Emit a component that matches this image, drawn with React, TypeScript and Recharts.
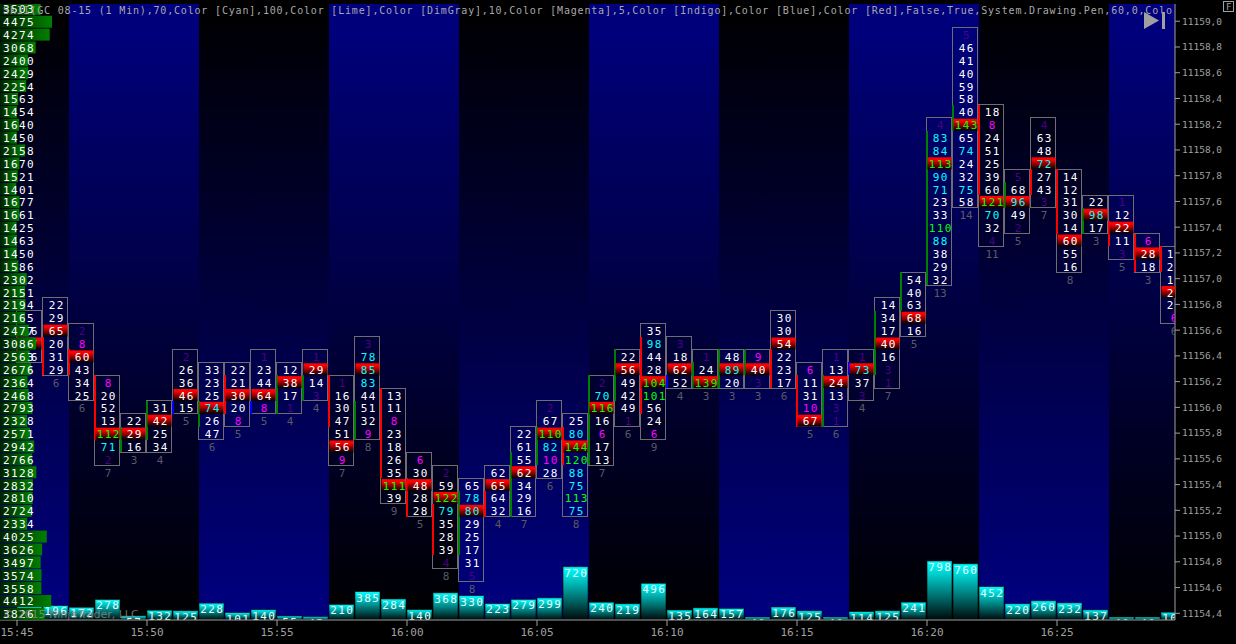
import { ComposedChart, Bar, Scatter, XAxis, YAxis, ReferenceArea } from 'recharts';

const WIDTH = 1236;
const HEIGHT = 644;
const MONO = '"DejaVu Sans Mono", monospace';
const ROW = 0.1;
const X_MIN = -17 / 26;
const X_MAX = 1158 / 26;

// minutes after 15:45
const minuteTicks = [0, 5, 10, 15, 20, 25, 30, 35, 40];
const timeLabels = ['15:45', '15:50', '15:55', '16:00', '16:05', '16:10', '16:15', '16:20', '16:25'];
const priceTicks = [
  11159.0, 11158.8, 11158.6, 11158.4, 11158.2, 11158.0, 11157.8, 11157.6, 11157.4, 11157.2, 11157.0, 11156.8,
  11156.6, 11156.4, 11156.2, 11156.0, 11155.8, 11155.6, 11155.4, 11155.2, 11155.0, 11154.8, 11154.6, 11154.4,
];
// alternating 5 minute bands, one fades blue to black going down, the other black to blue
const fadeDownBands = [[2, 7], [12, 17], [22, 27], [32, 37], [42, X_MAX]];
const fadeUpBands = [[X_MIN, 2], [7, 12], [17, 22], [27, 32], [37, 42]];

// volume profile on the left, from 11159.1 downwards
const profileVolumes = [
  3503, 4475, 4274, 3068, 2400, 2429, 2254, 1563, 1454, 1640, 1450, 2158, 1670, 1521, 1401, 1677,
  1661, 1425, 1463, 1450, 1586, 2302, 2151, 2194, 2165, 2477, 3086, 2563, 2676, 2364, 2468, 2793,
  2328, 2571, 2942, 2766, 3128, 2832, 2810, 2724, 2334, 4025, 3626, 3497, 3574, 3558, 4412, 3826,
];

const barVolumes = [
  180, 196, 172, 278, 57, 132, 125, 228, 101, 140, 55, 45, 210, 385, 284, 140, 368, 330, 223, 279, 299, 720, 240,
  219, 496, 135, 164, 157, 40, 176, 125, 40, 114, 125, 241, 798, 760, 452, 220, 260, 232, 137, 40, 40, 105,
];
const barHighs = [
  11156.7, 11156.8, 11156.6, 11156.2, 11155.9, 11156.0, 11156.4, 11156.3, 11156.3, 11156.4, 11156.3, 11156.4,
  11156.2, 11156.5, 11156.1, 11155.6, 11155.5, 11155.4, 11155.5, 11155.8, 11156.0, 11155.9, 11156.2, 11156.4,
  11156.6, 11156.5, 11156.4, 11156.4, 11156.4, 11156.7, 11156.3, 11156.4, 11156.4, 11156.8, 11157.0, 11158.2,
  11158.9, 11158.3, 11157.8, 11158.2, 11157.8, 11157.6, 11157.6, 11157.3, 11157.2,
];
const barOpens = [
  11156.5, 11156.5, 11156.4, 11156.2, 11155.7, 11155.8, 11156.0, 11155.9, 11156.2, 11156.0, 11156.0, 11156.1,
  11156.2, 11155.8, 11156.1, 11155.4, 11155.2, 11154.9, 11155.3, 11155.2, 11155.6, 11155.8, 11155.6, 11156.1,
  11156.5, 11156.2, 11156.2, 11156.2, 11156.3, 11156.4, 11156.2, 11155.9, 11156.3, 11156.3, 11156.8, 11157.0,
  11158.2, 11158.3, 11157.6, 11157.8, 11157.8, 11157.4, 11157.4, 11157.3, 11157.2,
];
const barCloses = [
  11156.4, 11156.3, 11156.3, 11155.8, 11155.8, 11156.0, 11156.0, 11156.0, 11156.0, 11156.0, 11156.2, 11156.2,
  11155.9, 11156.0, 11155.5, 11155.2, 11154.9, 11155.3, 11155.2, 11155.6, 11155.8, 11155.6, 11156.2, 11156.4,
  11156.0, 11156.2, 11156.3, 11156.4, 11156.4, 11156.2, 11155.9, 11156.2, 11156.3, 11156.7, 11157.0, 11158.1,
  11158.3, 11157.7, 11157.7, 11157.7, 11157.4, 11157.5, 11157.3, 11157.1, 11157.1,
];
// traded volume per price row, top row first
const barCells = [
  [5, 16, 77, 16],
  [22, 29, 65, 20, 31, 29],
  [2, 8, 60, 43, 34, 25],
  [8, 20, 52, 13, 112, 71, 2],
  [22, 29, 16],
  [31, 42, 25, 34],
  [2, 26, 36, 46, 15],
  [33, 23, 25, 74, 26, 47],
  [22, 21, 30, 20, 8],
  [1, 23, 44, 64, 8],
  [12, 38, 17, 1],
  [1, 29, 14, 3],
  [1, 16, 30, 47, 51, 56, 9],
  [3, 78, 85, 83, 44, 51, 32, 9],
  [13, 11, 8, 23, 18, 26, 35, 111, 39],
  [6, 30, 48, 28, 28],
  [2, 59, 122, 79, 35, 28, 39, 4],
  [65, 78, 80, 29, 25, 17, 31, 5],
  [62, 65, 64, 32],
  [22, 61, 55, 62, 34, 29, 16],
  [2, 67, 110, 82, 10, 28],
  [25, 80, 144, 120, 88, 75, 113, 75],
  [2, 70, 116, 16, 6, 17, 13],
  [22, 56, 49, 42, 49, 1],
  [35, 98, 44, 28, 104, 101, 56, 24, 6],
  [3, 18, 62, 52],
  [1, 24, 139],
  [48, 89, 20],
  [9, 40, 3],
  [30, 30, 54, 22, 23, 17],
  [6, 11, 31, 10, 67],
  [1, 13, 24, 13, 3, 1],
  [1, 73, 37, 3],
  [14, 34, 17, 40, 16, 3, 1],
  [54, 40, 63, 68, 16],
  [4, 83, 84, 113, 90, 71, 23, 33, 110, 88, 38, 29, 32],
  [5, 46, 41, 40, 59, 58, 40, 143, 65, 74, 24, 32, 75, 58],
  [18, 8, 24, 51, 25, 39, 60, 121, 70, 32, 4],
  [5, 68, 96, 49, 2],
  [4, 63, 48, 72, 27, 43, 3],
  [14, 12, 31, 30, 14, 60, 55, 16],
  [22, 98, 17],
  [1, 12, 22, 11, 3],
  [6, 28, 18],
  [16, 23, 18, 29, 22, 6],
];

const titleText =
  'SkII(GC 08-15 (1 Min),70,Color [Cyan],100,Color [Lime],Color [DimGray],10,Color [Magenta],5,Color [Indigo],Color [Blue],Color [Red],False,True,System.Drawing.Pen,60,0,Colo';

const volumeRows = barVolumes.map((volume, i) => ({ minute: i + 0.5, volume }));
const cellRows = barCells.flatMap((cells, i) => {
  const peak = Math.max(...cells);
  return cells.map((volume, k) => ({
    minute: i + 0.5,
    price: barHighs[i] - k * ROW,
    volume,
    isPoc: volume === peak && cells.indexOf(peak) === k,
  }));
});
const countRows = barCells.map((cells, i) => ({
  minute: i + 0.5,
  price: barHighs[i] - cells.length * ROW,
  count: cells.length,
}));
const profileRows = profileVolumes.map((volume, k) => ({ minute: X_MIN, price: 11159.1 - k * ROW, volume }));

function cellColor(v: number) {
  if (v <= 5) return '#4b0082';
  if (v <= 10) return '#ff00ff';
  if (v >= 100) return '#00ff00';
  if (v >= 70) return '#00ffff';
  return '#ffffff';
}

function bodyColor(i: number) {
  if (barCloses[i] > barOpens[i]) return '#008000';
  if (barCloses[i] < barOpens[i]) return '#ff0000';
  return '#0000ff';
}

const Cell = ({ cx, cy, payload }: any) => (
  <g>
    {payload.isPoc && <rect x={cx - 12.5} y={cy - 5.5} width={24} height={12} fill="url(#pocFill)" />}
    <text x={cx + 0.7} y={cy + 5} textAnchor="middle" fill={cellColor(payload.volume)} fontFamily={MONO} fontSize={11} letterSpacing={1.4}>
      {payload.volume}
    </text>
  </g>
);

const Count = ({ cx, cy, payload }: any) => (
  <text x={cx} y={cy + 5} textAnchor="middle" fill="#5a5a64" fontFamily={MONO} fontSize={11}>
    {payload.count}
  </text>
);

const ProfileRow = ({ cx, cy, payload }: any) => (
  <g>
    <rect x={cx} y={cy - 5.5} width={payload.volume * 0.01162} height={12} fill="url(#profileFill)" />
    <text x={cx + 3} y={cy + 5} fill="#ffffff" fontFamily={MONO} fontSize={11} letterSpacing={1.4}>
      {payload.volume}
    </text>
  </g>
);

const VolumeBar = ({ x, y, width, height, value }: any) => (
  <g clipPath="url(#plotClip)">
    <rect x={x} y={y} width={width} height={height} fill="url(#volumeFill)" stroke="#000000" strokeOpacity={0.6} />
    <text x={x + width / 2 + 0.7} y={y + 10} textAnchor="middle" fill="#e6ffff" fontFamily={MONO} fontSize={11} letterSpacing={1.4}>
      {value}
    </text>
  </g>
);

export default function App() {
  return (
    <div style={{ position: 'fixed', left: 0, top: 0, width: WIDTH, height: HEIGHT, background: '#000000' }}>
      <ComposedChart
        width={WIDTH}
        height={HEIGHT}
        data={volumeRows}
        margin={{ top: 4, right: 0, bottom: 0, left: 0 }}
      >
        <defs>
          <linearGradient id="fadeDown" x1="0" y1="0" x2="0" y2="1">
            <stop offset="0" stopColor="#000080" />
            <stop offset="1" stopColor="#000000" />
          </linearGradient>
          <linearGradient id="fadeUp" x1="0" y1="0" x2="0" y2="1">
            <stop offset="0" stopColor="#000000" />
            <stop offset="1" stopColor="#000080" />
          </linearGradient>
          <linearGradient id="pocFill" x1="0" y1="0" x2="0" y2="1">
            <stop offset="0.2" stopColor="#ff0000" />
            <stop offset="1" stopColor="#000000" />
          </linearGradient>
          <linearGradient id="profileFill" x1="0" y1="0" x2="1" y2="0">
            <stop offset="0" stopColor="#002000" />
            <stop offset="1" stopColor="#008000" />
          </linearGradient>
          <linearGradient id="volumeFill" x1="0" y1="0" x2="0" y2="1">
            <stop offset="0" stopColor="#00ffff" />
            <stop offset="0.15" stopColor="#00e0e0" />
            <stop offset="1" stopColor="#000808" />
          </linearGradient>
          <clipPath id="plotClip">
            <rect x={0} y={4} width={1175} height={616} />
          </clipPath>
        </defs>
        <XAxis
          dataKey="minute"
          type="number"
          domain={[X_MIN, X_MAX]}
          allowDataOverflow
          ticks={minuteTicks}
          interval={0}
          height={24}
          stroke="#a0a0a0"
          tickSize={6}
          tickFormatter={(v: number) => timeLabels[v / 5]}
          tick={{ fill: '#a0a0a0', fontFamily: MONO, fontSize: 11 }}
        />
        <YAxis
          yAxisId="price"
          dataKey="price"
          type="number"
          orientation="right"
          domain={[11154.348, 11159.134]}
          allowDataOverflow
          ticks={priceTicks}
          interval={0}
          width={61}
          stroke="#a0a0a0"
          tickSize={5}
          tickFormatter={(v: number) => v.toFixed(1).replace('.', ',')}
          tick={{ fill: '#a0a0a0', fontFamily: MONO, fontSize: 9.5, textAnchor: 'start' }}
        />
        <YAxis yAxisId="volume" type="number" domain={[0, 8324]} hide />
        {fadeUpBands.map(([x1, x2]) => (
          <ReferenceArea key={x1} yAxisId="price" x1={x1} x2={x2} fill="url(#fadeUp)" fillOpacity={1} stroke="none" />
        ))}
        {fadeDownBands.map(([x1, x2]) => (
          <ReferenceArea key={x1} yAxisId="price" x1={x1} x2={x2} fill="url(#fadeDown)" fillOpacity={1} stroke="none" />
        ))}
        <Bar yAxisId="volume" dataKey="volume" barSize={25} shape={VolumeBar} isAnimationActive={false} />
        {barCells.map((cells, i) => (
          <ReferenceArea
            key={i}
            yAxisId="price"
            x1={i - 0.02}
            x2={i + 0.96}
            y1={barHighs[i] + ROW / 2}
            y2={barHighs[i] - (cells.length - 0.5) * ROW}
            fill="none"
            stroke="#6e6e6e"
            shapeRendering="crispEdges"
            ifOverflow="hidden"
          />
        ))}
        <Scatter yAxisId="price" data={cellRows} shape={Cell} isAnimationActive={false} />
        <Scatter yAxisId="price" data={countRows} shape={Count} isAnimationActive={false} />
        {barCells.map((_, i) => (
          <ReferenceArea
            key={i}
            yAxisId="price"
            x1={i - 0.03}
            x2={i + 0.05}
            y1={Math.max(barOpens[i], barCloses[i]) + ROW / 2}
            y2={Math.min(barOpens[i], barCloses[i]) - ROW / 2}
            fill={bodyColor(i)}
            fillOpacity={1}
            stroke="none"
            shapeRendering="crispEdges"
          />
        ))}
        <Scatter yAxisId="price" data={profileRows} shape={ProfileRow} isAnimationActive={false} />
      </ComposedChart>
      <svg width={WIDTH} height={HEIGHT} style={{ position: 'absolute', left: 0, top: 0, pointerEvents: 'none' }}>
        <defs>
          <clipPath id="titleClip">
            <rect x={0} y={4} width={1175} height={616} />
          </clipPath>
        </defs>
        <text x={3} y={14} fill="#a8a8a8" fontFamily={MONO} fontSize={10} letterSpacing={0.82} clipPath="url(#titleClip)">
          {titleText}
        </text>
        <text x={3} y={618} fill="#8c8c8c" fillOpacity={0.8} fontFamily='"DejaVu Sans", sans-serif' fontSize={11}>
          © 2015 NinjaTrader, LLC
        </text>
        <polygon points="1144,12 1159,20.5 1144,29" fill="#a0a0a0" />
        <rect x={1162} y={12} width={3} height={17} fill="#a0a0a0" />
        <rect x={1223.5} y={1.5} width={10} height={10} fill="none" stroke="#a0a0a0" />
        <text x={1226} y={10} fill="#a0a0a0" fontFamily={MONO} fontSize={9}>
          F
        </text>
      </svg>
    </div>
  );
}
